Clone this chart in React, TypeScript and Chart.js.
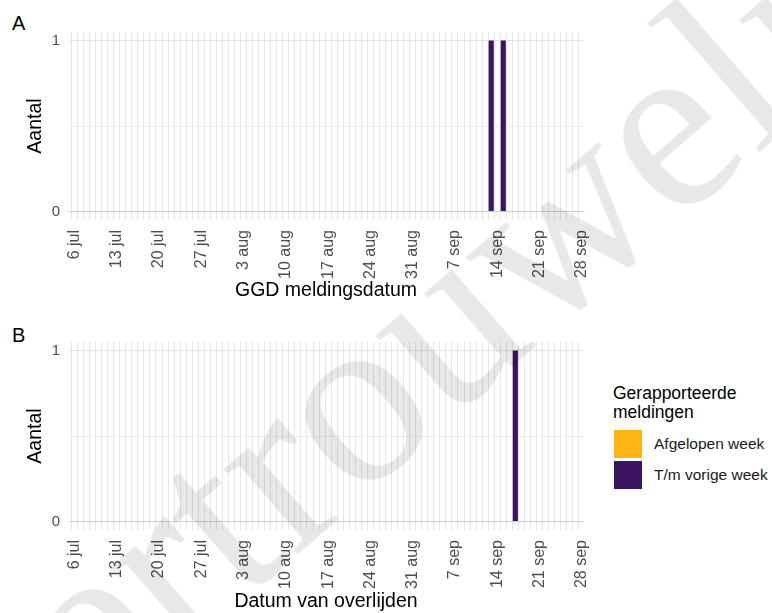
import { useEffect, useRef } from "react";
import { Chart, registerables } from "chart.js";

Chart.register(...registerables);

const FONT = "'Liberation Sans', Arial, sans-serif";

// day 0 of the x axis
const startDate = "2020-07-06";
const weekLabels = [
  "6 jul", "13 jul", "20 jul", "27 jul", "3 aug", "10 aug", "17 aug",
  "24 aug", "31 aug", "7 sep", "14 sep", "21 sep", "28 sep",
];
const yTickValues = [0, 0.5, 1];

const legendTitle = ["Gerapporteerde", "meldingen"];
const legendLabels = ["Afgelopen week", "T/m vorige week"];
const legendColors = ["#FDB515", "#3B1461"];

// A: GGD meldingsdatum
const meldingDatesLastWeek: string[] = [];
const meldingCountsLastWeek: number[] = [];
const meldingDatesPrevWeeks = ["2020-09-13", "2020-09-15"];
const meldingCountsPrevWeeks = [1, 1];

// B: Datum van overlijden
const overlijdenDatesLastWeek: string[] = [];
const overlijdenCountsLastWeek: number[] = [];
const overlijdenDatesPrevWeeks = ["2020-09-17"];
const overlijdenCountsPrevWeeks = [1];

const dayIndex = (d: string) =>
  Math.round((Date.parse(d) - Date.parse(startDate)) / 86400000);

const toPoints = (dates: string[], counts: number[]) =>
  dates.map((d, i) => ({ x: dayIndex(d), y: counts[i] }));

const allDays = Array.from({ length: (weekLabels.length - 1) * 7 + 1 }, (_, i) => i);

type PanelProps = {
  top: number;
  height: number;
  xAxisHeight: number;
  xTitle: string;
  xTitlePad: number;
  lastDates: string[];
  lastCounts: number[];
  prevDates: string[];
  prevCounts: number[];
};

const Panel = (p: PanelProps) => {
  const chartRef = useRef<HTMLCanvasElement | null>(null);

  useEffect(() => {
    if (!chartRef.current) return;
    const chart = new Chart(chartRef.current, {
      type: "bar",
      data: {
        datasets: [
          {
            label: legendLabels[0],
            data: toPoints(p.lastDates, p.lastCounts),
            backgroundColor: legendColors[0],
          },
          {
            label: legendLabels[1],
            data: toPoints(p.prevDates, p.prevCounts),
            backgroundColor: legendColors[1],
          },
        ],
      },
      options: {
        animation: false,
        responsive: true,
        maintainAspectRatio: false,
        layout: { padding: { top: 32, right: 17, left: 0, bottom: 0 } },
        datasets: {
          bar: { categoryPercentage: 1, barPercentage: 0.85, borderWidth: 0 },
        },
        plugins: {
          legend: { display: false },
          tooltip: { enabled: false },
        },
        scales: {
          x: {
            type: "linear",
            stacked: true,
            offset: false,
            min: -0.9,
            max: 84.2,
            afterBuildTicks: (s: any) => {
              s.ticks = allDays.map((v) => ({ value: v }));
            },
            afterFit: (s: any) => {
              s.height = p.xAxisHeight;
              s.paddingLeft = 0;
              s.paddingRight = 0;
            },
            grid: { color: "#e6e6ea", drawTicks: false },
            border: { display: false },
            ticks: {
              autoSkip: false,
              minRotation: 90,
              maxRotation: 90,
              padding: 10,
              color: "#4d4d4d",
              font: { family: FONT, size: 16 },
              callback: (v: any) => (v % 7 === 0 ? weekLabels[v / 7] : ""),
            },
            title: {
              display: true,
              text: p.xTitle,
              color: "#000",
              font: { family: FONT, size: 19.5, lineHeight: 1 },
              padding: { top: 0, bottom: p.xTitlePad },
            },
          },
          y: {
            stacked: true,
            min: -0.05,
            max: 1.05,
            afterBuildTicks: (s: any) => {
              s.ticks = yTickValues.map((v) => ({ value: v }));
            },
            afterFit: (s: any) => {
              s.width = 69;
            },
            grid: {
              drawTicks: false,
              color: (ctx: any) =>
                ctx.tick.value === 0
                  ? "#cdc9e0"
                  : ctx.tick.value === 1
                  ? "#e2e0ea"
                  : "#ececef",
            },
            border: { display: false },
            ticks: {
              padding: 9,
              color: "#4d4d4d",
              font: { family: FONT, size: 15 },
              callback: (v: any) => (Number.isInteger(v) ? String(v) : ""),
            },
            title: {
              display: true,
              text: "Aantal",
              color: "#000",
              font: { family: FONT, size: 19.5, lineHeight: 1 },
              padding: { top: 26, bottom: 0 },
            },
          },
        },
      },
    });
    return () => {
      chart.destroy();
    };
  }, []);

  return (
    <div
      style={{
        position: "absolute",
        left: 0,
        top: p.top,
        width: 600,
        height: p.height,
      }}
    >
      <canvas ref={chartRef}></canvas>
    </div>
  );
};

const App = () => {
  useEffect(() => {
    document.body.style.margin = "0";
  }, []);

  return (
    <div
      style={{
        position: "relative",
        width: 772,
        height: 613,
        overflow: "hidden",
        background: "#fff",
        fontFamily: FONT,
      }}
    >
      <div style={{ position: "absolute", left: 12, top: 12, fontSize: 20 }}>A</div>
      <div style={{ position: "absolute", left: 12, top: 324, fontSize: 20 }}>B</div>

      <Panel
        top={0}
        height={305}
        xAxisHeight={85}
        xTitle="GGD meldingsdatum"
        xTitlePad={5}
        lastDates={meldingDatesLastWeek}
        lastCounts={meldingCountsLastWeek}
        prevDates={meldingDatesPrevWeeks}
        prevCounts={meldingCountsPrevWeeks}
      />
      <Panel
        top={310}
        height={303}
        xAxisHeight={83}
        xTitle="Datum van overlijden"
        xTitlePad={2}
        lastDates={overlijdenDatesLastWeek}
        lastCounts={overlijdenCountsLastWeek}
        prevDates={overlijdenDatesPrevWeeks}
        prevCounts={overlijdenCountsPrevWeeks}
      />

      <div style={{ position: "absolute", left: 613, top: 384, fontSize: 17.5, lineHeight: "19px" }}>
        {legendTitle.map((t) => (
          <div key={t}>{t}</div>
        ))}
      </div>
      {legendLabels.map((l, i) => (
        <div key={l}>
          <div
            style={{
              position: "absolute",
              left: 614,
              top: 430 + i * 31,
              width: 28,
              height: 28,
              background: legendColors[i],
            }}
          />
          <div
            style={{
              position: "absolute",
              left: 654,
              top: 435 + i * 31,
              fontSize: 15.5,
              lineHeight: "18px",
              color: "#1a1a1a",
            }}
          >
            {l}
          </div>
        </div>
      ))}

      {/* watermark */}
      <div
        style={{
          position: "absolute",
          left: 450,
          top: 312,
          transform: "translate(-50%, -50%) rotate(-41deg)",
          fontFamily: "'Liberation Serif', 'Times New Roman', serif",
          fontSize: 245,
          lineHeight: 1,
          whiteSpace: "nowrap",
          color: "rgba(0, 0, 0, 0.09)",
          pointerEvents: "none",
        }}
      >
        vertrouwelijk
      </div>
    </div>
  );
};

export default App;
